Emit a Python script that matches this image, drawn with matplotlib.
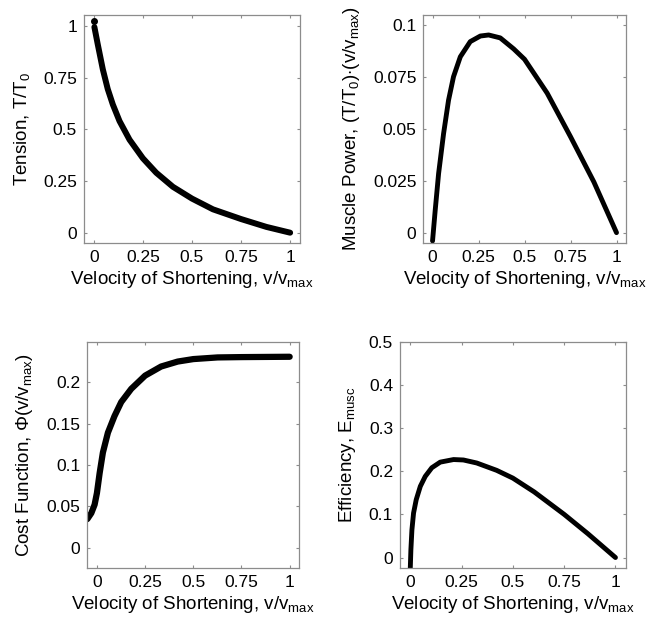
import numpy as np
import matplotlib.pyplot as plt

plt.rcParams['font.family'] = ['Liberation Sans', 'DejaVu Sans']
plt.rcParams['mathtext.fontset'] = 'custom'
plt.rcParams['mathtext.rm'] = 'Liberation Sans'
plt.rcParams['mathtext.it'] = 'Liberation Sans:italic'
plt.rcParams['mathtext.default'] = 'rm'

# Values
tension_v = [0.003, 0.02, 0.046, 0.071, 0.097, 0.131, 0.182, 0.25, 0.318, 0.403,
             0.5, 0.607, 0.75, 0.879, 1.0]
tension = [0.995, 0.912, 0.79, 0.695, 0.62, 0.54, 0.45, 0.36, 0.29, 0.222,
           0.165, 0.113, 0.066, 0.028, 0.0]
tension_dot = [0.0, 1.024]

power_v = [0.0, 0.0145, 0.033, 0.060, 0.087, 0.114, 0.151, 0.205, 0.260, 0.305,
           0.368, 0.441, 0.5, 0.623, 0.75, 0.877, 1.0]
power = [-0.004, 0.0108, 0.0285, 0.0477, 0.0638, 0.0751, 0.0847, 0.0920, 0.0947, 0.0952,
         0.0938, 0.0885, 0.0835, 0.0672, 0.0462, 0.0244, 0.0]

cost_v = [-0.05, -0.029, -0.012, 0.0, 0.014, 0.031, 0.057, 0.091, 0.126, 0.178,
          0.25, 0.333, 0.419, 0.5, 0.626, 0.75, 1.0]
cost = [0.0345, 0.0418, 0.052, 0.066, 0.090, 0.115, 0.139, 0.159, 0.176, 0.192,
        0.208, 0.219, 0.225, 0.228, 0.230, 0.2304, 0.2308]

eff_v = [0.0, 0.003, 0.008, 0.016, 0.029, 0.049, 0.073, 0.105, 0.146, 0.211,
         0.259, 0.324, 0.421, 0.5, 0.604, 0.75, 0.866, 1.0]
eff = [-0.026, 0.018, 0.064, 0.103, 0.134, 0.165, 0.188, 0.208, 0.221, 0.227,
       0.226, 0.219, 0.202, 0.184, 0.152, 0.100, 0.055, 0.0]

xticks = [0, 0.25, 0.5, 0.75, 1]
xticklabels = ['0', '0.25', '0.5', '0.75', '1']
xlabel = r'Velocity of Shortening, v/v$_{\mathrm{max}}$'

frame = '#8c8c8c'


def style(ax, yticks, yticklabels, ylim, ylabel):
    ax.set_xlim(-0.05, 1.05)
    ax.set_ylim(*ylim)
    ax.set_xticks(xticks)
    ax.set_xticklabels(xticklabels)
    ax.set_yticks(yticks)
    ax.set_yticklabels(yticklabels)
    ax.tick_params(direction='in', length=2.5, width=0.8, color=frame,
                   labelsize=12.5, top=True, right=True, pad=5)
    for s in ax.spines.values():
        s.set_color(frame)
        s.set_linewidth(0.9)
    ax.set_xlabel(xlabel, fontsize=13.5, labelpad=3)
    ax.set_ylabel(ylabel, fontsize=13.5, labelpad=8)


def curve(ax, x, y, lw):
    ax.plot(x, y, '-', color='black', lw=lw,
            solid_capstyle='round', solid_joinstyle='round')


fig = plt.figure(figsize=(6.48, 6.27), dpi=100)

ax1 = fig.add_axes([0.1296, 0.6124, 0.3333, 0.3636])
curve(ax1, tension_v, tension, 4.3)
ax1.plot(*tension_dot, 'o', color='black', ms=4)
style(ax1, [0, 0.25, 0.5, 0.75, 1], ['0', '0.25', '0.5', '0.75', '1'],
      (-0.05, 1.053), r'Tension, T/T$_0$')

ax2 = fig.add_axes([0.6533, 0.6124, 0.3123, 0.3636])
curve(ax2, power_v, power, 3.5)
style(ax2, [0, 0.025, 0.05, 0.075, 0.1], ['0', '0.025', '0.05', '0.075', '0.1'],
      (-0.005, 0.1048), r'Muscle Power, (T/T$_0$)$\cdot$(v/v$_{\mathrm{max}}$)')

ax3 = fig.add_axes([0.1347, 0.0936, 0.3272, 0.3614])
curve(ax3, cost_v, cost, 4.5)
style(ax3, [0, 0.05, 0.1, 0.15, 0.2], ['0', '0.05', '0.1', '0.15', '0.2'],
      (-0.025, 0.249), r'Cost Function, $\Phi$(v/v$_{\mathrm{max}}$)')

ax4 = fig.add_axes([0.6173, 0.0936, 0.3483, 0.3614])
curve(ax4, eff_v, eff, 3.5)
style(ax4, [0, 0.1, 0.2, 0.3, 0.4, 0.5], ['0', '0.1', '0.2', '0.3', '0.4', '0.5'],
      (-0.025, 0.5), r'Efficiency, E$_{\mathrm{musc}}$')

fig.savefig('out.png', dpi=100)
